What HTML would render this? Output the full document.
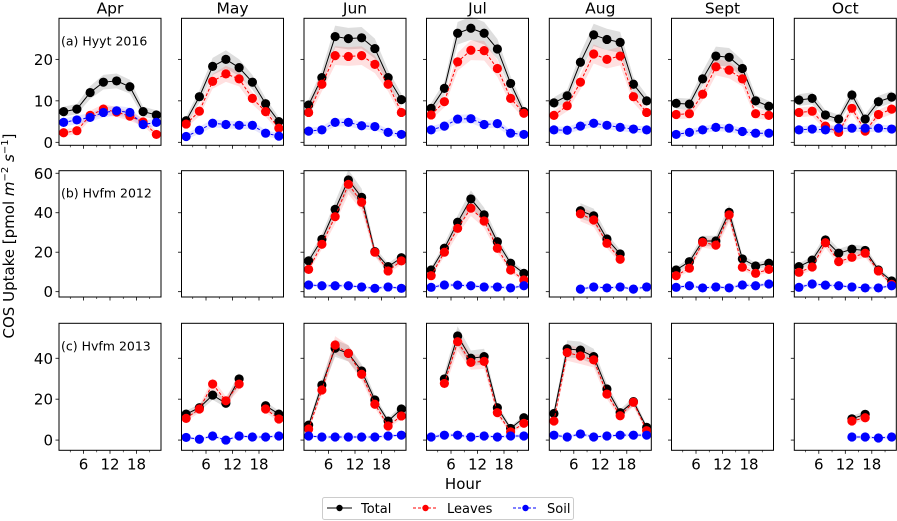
<!DOCTYPE html>
<html><head><meta charset="utf-8"><style>
html,body{margin:0;padding:0;background:#fff;}
svg{display:block;font-family:"DejaVu Sans","Liberation Sans",sans-serif;}
</style></head><body>
<svg id="chart" width="897" height="521" viewBox="0 0 897 521" xmlns="http://www.w3.org/2000/svg">
<text transform="translate(14,236) rotate(-90)" text-anchor="middle" font-size="15">COS Uptake [pmol <tspan font-style="italic">m</tspan><tspan dy="-6" font-size="10">−2</tspan><tspan dy="6"> </tspan><tspan font-style="italic">s</tspan><tspan dy="-6" font-size="10">−1</tspan><tspan dy="6">]</tspan></text>
<text x="463" y="489" text-anchor="middle" font-size="15">Hour</text>
<g>
<rect x="322.5" y="497.5" width="251" height="22" rx="2" fill="#fff" stroke="#ccc"/>
<g><line x1="327" y1="508" x2="352" y2="508" stroke="#000" stroke-width="1"/><circle cx="339.5" cy="508" r="3.2" fill="#000"/><text x="361" y="513" font-size="13">Total</text></g>
<g><line x1="413" y1="508" x2="438" y2="508" stroke="red" stroke-width="1" stroke-dasharray="3,2"/><circle cx="425.5" cy="508" r="3.2" fill="red"/><text x="447" y="513" font-size="13">Leaves</text></g>
<g><line x1="513" y1="508" x2="538" y2="508" stroke="blue" stroke-width="1" stroke-dasharray="3,2"/><circle cx="525.5" cy="508" r="3.2" fill="blue"/><text x="547" y="513" font-size="13">Soil</text></g>
</g>
</svg>
<script>
const months = ["Apr","May","Jun","Jul","Aug","Sept","Oct"];
const hours = [1.5,4.5,7.5,10.5,13.5,16.5,19.5,22.5];
const rowLabels = ["(a) Hyyt 2016","(b) Hvfm 2012","(c) Hvfm 2013"];
const yTicksRow1 = [0,10,20];
const yTicksRow2 = [0,20,40,60];
const yTicksRow3 = [0,20,40];
const xTickLabels = [6,12,18];
const xMinorTicks = [3,9,15,21];
const _ = null;
const totalRow1 = [
 [7.4,8.0,12,14.5,14.8,13.4,7.4,6.6],
 [5.2,11,18.3,20,18,14.5,9.3,5],
 [9,15.6,25.5,25,25.2,22.6,15.6,10.3],
 [8.2,13,26.3,27.5,26.3,22.5,14.2,7.4],
 [9.5,11.2,19.3,25.9,24.8,24.1,14,10],
 [9.4,9.2,15.3,20.8,20.5,17.8,10,8.7],
 [10.2,10.6,6.6,5.6,11.4,5.6,9.8,10.9]];
const leavesRow1 = [
 [2.3,2.8,6.5,8,7.3,6.3,4.9,1.9],
 [4.4,7.5,14.7,16.5,15.3,10.6,7.4,3.4],
 [7.2,14,20.9,20.7,20.9,18.8,14,7.2],
 [6.6,9.8,19.4,22.2,22.1,17.8,10.6,7],
 [6.5,8.8,14.5,21.3,20,20.8,11,7.2],
 [6.7,6.9,11.6,18.2,17.4,15.3,6.9,6.5],
 [7.2,7.5,3.9,2.4,8.2,2.7,6.7,8]];
const soilRow1 = [
 [4.8,5.4,6,7.2,7.6,7.2,4.3,4.8],
 [1.4,2.9,4.6,4.3,4.1,4.1,2.2,1.5],
 [2.7,3,4.8,4.8,4,3.8,2.4,1.9],
 [3,3.9,5.6,5.7,4.3,4.5,2.2,1.9],
 [3,2.9,3.9,4.6,4.1,3.6,3.2,3],
 [1.9,2.4,3,3.6,3.4,2.6,2.2,2.2],
 [3,3.2,3,3.4,3.4,3.4,3.4,3.2]];
const totalRow2 = [
 [_,_,_,_,_,_,_,_],[_,_,_,_,_,_,_,_],
 [15.6,26.5,41.7,56.6,47.8,20.3,12.7,17.2],
 [11,22,35.2,47,38.9,25.3,14.4,9.3],
 [_,_,41,38.4,26.7,19.1,_,_],
 [11,15.2,25.7,25.7,40.2,16.6,13,14.4],
 [12.7,16,26.2,19.5,21.5,20.9,11,5.4]];
const leavesRow2 = [
 [_,_,_,_,_,_,_,_],[_,_,_,_,_,_,_,_],
 [11.3,24,38,54.4,45.3,20,10.5,15.6],
 [8.1,20,32.1,42.3,35.8,22,11,5.9],
 [_,_,39.4,36.3,24.5,16.4,_,_],
 [8.1,11.9,25,23.6,38.9,12.4,9.3,11.3],
 [9.8,12.5,24.8,15.2,17.4,19.5,10.5,3.7]];
const soilRow2 = [
 [_,_,_,_,_,_,_,_],[_,_,_,_,_,_,_,_],
 [3.4,3,3,3,2.4,1.7,2.4,1.7],
 [2.2,3.4,3.3,3,2.4,2.4,1.9,3],
 [_,_,1.3,2.4,1.9,2.4,1.3,2.4],
 [2.2,3,1.9,2.4,1.9,3.4,3,3.9],
 [2.2,3.9,3.3,3,2.4,1.9,1.9,3]];
const totalRow3 = [
 [_,_,_,_,_,_,_,_],
 [12.7,15.8,22,18,29.9,_,16.8,12.7],
 [7.3,26.9,44.9,42.4,33.8,19.6,9.3,15.2],
 [_,29.9,50.9,40,40.8,15.8,5.7,10.9],
 [13,44.6,44,40.8,25,13.4,18.8,6.2],
 [_,_,_,_,_,_,_,_],
 [_,_,_,_,10.4,12.6,_,_]];
const leavesRow3 = [
 [_,_,_,_,_,_,_,_],
 [10.6,15.2,27.4,19.2,27.4,_,15.2,10.3],
 [5.4,24.5,46.5,42.4,32.2,17.5,6.9,11.8],
 [_,27.7,48.1,38,38.5,13.4,4,8.2],
 [9.3,42.8,41.1,39.2,22.5,11.9,18.5,4.6],
 [_,_,_,_,_,_,_,_],
 [_,_,_,_,9.3,10.9,_,_]];
const soilRow3 = [
 [_,_,_,_,_,_,_,_],
 [1.3,0.4,2,0,2,1.5,1.5,2],
 [2,1.5,1.5,1.5,1.5,1.5,2,2.4],
 [1.5,2.4,2.4,1.5,2,1.5,2,2],
 [2.4,1.5,3,1.5,2,2.4,2.4,2.4],
 [_,_,_,_,_,_,_,_],
 [_,_,_,_,1.5,1.5,1,1.5]];

const NS = "http://www.w3.org/2000/svg";
const svg = document.getElementById('chart');
const colLefts = [59,181.5,304,426.5,549.3,671.5,794.3];
const panelW = 102;
const rows = [
 {top:18.3,bottom:145.3,ymin:-0.72,ymax:29.9,ticks:yTicksRow1,t:totalRow1,l:leavesRow1,s:soilRow1},
 {top:170.7,bottom:297,ymin:-2.7,ymax:61.3,ticks:yTicksRow2,t:totalRow2,l:leavesRow2,s:soilRow2},
 {top:323.3,bottom:450.3,ymin:-5.0,ymax:57.1,ticks:yTicksRow3,t:totalRow3,l:leavesRow3,s:soilRow3}];
const XMIN = 0.45, XMAX = 23.55;
function mk(tag, attrs, parent){const e=document.createElementNS(NS,tag);for(const k in attrs)e.setAttribute(k,attrs[k]);(parent||svg).appendChild(e);return e;}

rows.forEach((r,ri)=>{
  const yS = v => r.bottom - (v - r.ymin)/(r.ymax - r.ymin)*(r.bottom - r.top);
  months.forEach((m,ci)=>{
    const left = colLefts[ci];
    const xS = h => left + (h - XMIN)/(XMAX - XMIN)*panelW;
    const g = mk('g',{});
    
    
    if(ri===0){
      const t = mk('text',{x:left+panelW/2,y:13.5,'text-anchor':'middle','font-size':'15.5'},g);
      
      
      t.textContent = m;
    }
    const series = [
      {d:r.t[ci],c:'#000',band:'rgba(0,0,0,0.13)',dash:null,name:'total'},
      {d:r.l[ci],c:'red',band:'rgba(255,0,0,0.12)',dash:'3,2',name:'leaves'},
      {d:r.s[ci],c:'blue',band:'rgba(0,0,255,0.10)',dash:'3,2',name:'soil'}];
    series.forEach(s=>{
      let segs=[],cur=[];
      s.d.forEach((v,i)=>{ if(v===null){ if(cur.length) segs.push(cur); cur=[]; } else cur.push(i); });
      if(cur.length) segs.push(cur);
      segs.forEach(seg=>{
        if(seg.length<2) return;
        const sp = v => 0.08*Math.abs(v)+0.6;
        const up = seg.map(i=>xS(hours[i])+','+yS(s.d[i]+sp(s.d[i])));
        const dn = seg.slice().reverse().map(i=>xS(hours[i])+','+yS(s.d[i]-sp(s.d[i])));
        const p = mk('polygon',{points:up.concat(dn).join(' '),fill:s.band,stroke:'none'},g);
        
        
      });
    });
    series.forEach(s=>{
      let segs=[],cur=[];
      s.d.forEach((v,i)=>{ if(v===null){ if(cur.length) segs.push(cur); cur=[]; } else cur.push(i); });
      if(cur.length) segs.push(cur);
      segs.forEach(seg=>{
        if(seg.length<2) return;
        const attrs={points:seg.map(i=>xS(hours[i])+','+yS(s.d[i])).join(' '),fill:'none',stroke:s.c,'stroke-width':'1'};
        if(s.dash) attrs['stroke-dasharray']=s.dash;
        const pl = mk('polyline',attrs,g);
        
        
      });
      s.d.forEach((v,i)=>{
        if(v===null) return;
        const c = mk('circle',{cx:xS(hours[i]),cy:yS(v),r:4.6,fill:s.c},g);
        
        
      });
    });
    const fr = mk('rect',{x:left,y:r.top,width:panelW,height:r.bottom-r.top,fill:'none',stroke:'#000','stroke-width':'1'},g);
    
    
    r.ticks.forEach(tv=>{
      const y = yS(tv);
      mk('line',{x1:left-3.5,y1:y,x2:left,y2:y,stroke:'#000','stroke-width':'0.8'},g);
      if(ci===0){
        const tl = mk('text',{x:left-6,y:y+5.5,'text-anchor':'end','font-size':'15'},g);
        
        
        tl.textContent = tv;
      }
    });
    xTickLabels.forEach(h=>{
      const x = xS(h);
      mk('line',{x1:x,y1:r.bottom,x2:x,y2:r.bottom+3.5,stroke:'#000','stroke-width':'0.8'},g);
      if(ri===2){
        const tl = mk('text',{x:x,y:r.bottom+19,'text-anchor':'middle','font-size':'15'},g);
        
        
        tl.textContent = h;
      }
    });
    xMinorTicks.forEach(h=>{
      const x = xS(h);
      mk('line',{x1:x,y1:r.bottom,x2:x,y2:r.bottom+2,stroke:'#000','stroke-width':'0.6'},g);
    });
    if(ci===0){
      const lt = mk('text',{x:left+2,y:r.top+27,'font-size':'12.5'},g);
      
      
      lt.textContent = rowLabels[ri];
    }
  });
});
</script>
</body></html>
